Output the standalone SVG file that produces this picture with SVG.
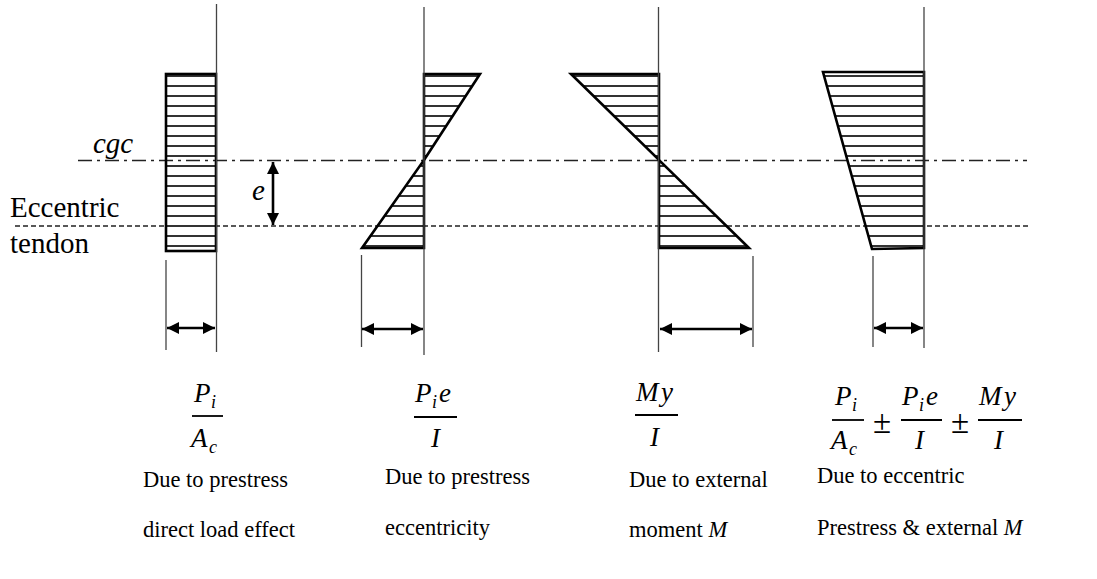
<svg xmlns="http://www.w3.org/2000/svg" width="1097" height="579" viewBox="0 0 1097 579">
<defs>
<style>
.ref{stroke:#444;stroke-width:1.3;fill:none}
.shape{fill:url(#hatch);stroke:#000;stroke-width:2.6;stroke-linejoin:miter}
.dim{stroke:#000;stroke-width:2.6;fill:none}
.lbl{font-family:"Liberation Serif","Times New Roman",serif;font-size:22.5px;fill:#000}
.side{font-family:"Liberation Serif","Times New Roman",serif;font-size:29px;fill:#000}
.it{font-style:italic}
.math{font-family:"Liberation Serif","Times New Roman",serif;font-style:italic;font-size:27px;fill:#000}
.sub{font-size:18px}
.pm{font-family:"Liberation Serif","Times New Roman",serif;font-size:33px;fill:#000}
.bar{stroke:#000;stroke-width:1.8}
</style>
<pattern id="hatch" width="10" height="10" patternUnits="userSpaceOnUse">
<line x1="0" y1="6" x2="10" y2="6" stroke="#333" stroke-width="2"/>
</pattern>
<marker id="ah" viewBox="0 0 10 10" refX="10" refY="5" markerWidth="14" markerHeight="12" markerUnits="userSpaceOnUse" orient="auto-start-reverse">
<path d="M0,0 L10,5 L0,10 z" fill="#000"/>
</marker>
</defs>

<g id="axes">
<line x1="78" y1="160.5" x2="1027" y2="160.5" stroke="#222" stroke-width="1.4" stroke-dasharray="14 5 3 5"/>
<line x1="15" y1="226" x2="1030" y2="226" stroke="#222" stroke-width="1.3" stroke-dasharray="5 3"/>
<text class="side it" x="93" y="153">cgc</text>
<text class="side" x="10" y="217">Eccentric</text>
<text class="side" x="10" y="253">tendon</text>
<text class="side it" x="252" y="200" font-size="27">e</text>
</g>

<g id="diagram-direct">
<rect class="shape" x="166" y="74" width="50" height="177"/>
<line class="ref" x1="216.5" y1="4" x2="216.5" y2="352"/>
<line class="ref" x1="166" y1="260" x2="166" y2="350"/>
</g>

<g id="diagram-eccentricity">
<polygon class="shape" points="424,74 480,74 424,160"/>
<polygon class="shape" points="424,160 424,248 362,248"/>
<line class="ref" x1="424" y1="7" x2="424" y2="355"/>
<line class="ref" x1="361.5" y1="255" x2="361.5" y2="347"/>
</g>

<g id="diagram-moment">
<polygon class="shape" points="571,74 659,74 659,160"/>
<polygon class="shape" points="659,160 659,248 749,248"/>
<line class="ref" x1="658.5" y1="7" x2="658.5" y2="352"/>
<line class="ref" x1="753" y1="256" x2="753" y2="347"/>
</g>

<g id="diagram-combined">
<polygon class="shape" points="823,72 924,72 924,248 872,249"/>
<line class="ref" x1="924" y1="7" x2="924" y2="348"/>
<line class="ref" x1="873" y1="256" x2="873" y2="347"/>
</g>

<g id="connectors">
<line class="dim" x1="273" y1="162" x2="273" y2="225" marker-start="url(#ah)" marker-end="url(#ah)"/>
<line class="dim" x1="167" y1="328" x2="215" y2="328" marker-start="url(#ah)" marker-end="url(#ah)"/>
<line class="dim" x1="362" y1="329" x2="423" y2="329" marker-start="url(#ah)" marker-end="url(#ah)"/>
<line class="dim" x1="660" y1="329" x2="752" y2="329" marker-start="url(#ah)" marker-end="url(#ah)"/>
<line class="dim" x1="874" y1="328" x2="923" y2="328" marker-start="url(#ah)" marker-end="url(#ah)"/>
</g>

<g id="formula-direct">
<text class="math" x="194" y="402">P</text><text class="math sub" x="211" y="408">i</text>
<line class="bar" x1="192" y1="416" x2="223" y2="416"/>
<text class="math" x="191" y="447">A</text><text class="math sub" x="209" y="453">c</text>
</g>

<g id="formula-eccentricity">
<text class="math" x="415" y="402">P</text><text class="math sub" x="432" y="408">i</text><text class="math" x="439" y="402">e</text>
<line class="bar" x1="414" y1="417" x2="457" y2="417"/>
<text class="math" x="431" y="447">I</text>
</g>

<g id="formula-moment">
<text class="math" x="636" y="401">M</text><text class="math" x="661" y="401">y</text>
<line class="bar" x1="635" y1="415" x2="678" y2="415"/>
<text class="math" x="650" y="446">I</text>
</g>

<g id="formula-combined">
<text class="math" x="835" y="405">P</text><text class="math sub" x="852" y="411">i</text>
<line class="bar" x1="832" y1="420" x2="864" y2="420"/>
<text class="math" x="831" y="449">A</text><text class="math sub" x="849" y="455">c</text>
<text class="pm" x="873" y="433">±</text>
<text class="math" x="902" y="405">P</text><text class="math sub" x="919" y="411">i</text><text class="math" x="926" y="405">e</text>
<line class="bar" x1="901" y1="420" x2="942" y2="420"/>
<text class="math" x="915" y="449">I</text>
<text class="pm" x="951" y="433">±</text>
<text class="math" x="979" y="405">M</text><text class="math" x="1004" y="405">y</text>
<line class="bar" x1="978" y1="420" x2="1022" y2="420"/>
<text class="math" x="994" y="449">I</text>
</g>

<g id="labels">
<text class="lbl" x="143" y="487">Due to prestress</text>
<text class="lbl" x="143" y="537">direct load effect</text>
<text class="lbl" x="385" y="484">Due to prestress</text>
<text class="lbl" x="385" y="535">eccentricity</text>
<text class="lbl" x="629" y="487">Due to external</text>
<text class="lbl" x="629" y="537">moment <tspan class="it">M</tspan></text>
<text class="lbl" x="817" y="483">Due to eccentric</text>
<text class="lbl" x="817" y="535">Prestress &amp; external <tspan class="it">M</tspan></text>
</g>
</svg>
